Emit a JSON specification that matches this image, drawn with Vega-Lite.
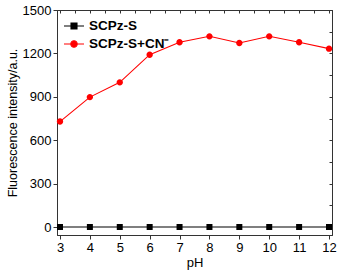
{
  "$schema": "https://vega.github.io/schema/vega-lite/v6.json",
  "width": 275,
  "height": 225,
  "autosize": {"type": "none"},
  "padding": {"left": 57, "top": 10, "right": 13, "bottom": 41},
  "config": {
    "view": {"stroke": "#333"},
    "font": "Liberation Sans",
    "axis": {"domainColor": "#333", "tickColor": "#333", "labelColor": "#000", "titleColor": "#000", "grid": false, "labelFont": "Liberation Sans", "titleFont": "Liberation Sans", "titleFontWeight": "normal"}
  },
  "data": {
    "values": [
      {"pH": 3, "intensity": 0, "series": "SCPz-S"},
      {"pH": 4, "intensity": 0, "series": "SCPz-S"},
      {"pH": 5, "intensity": 0, "series": "SCPz-S"},
      {"pH": 6, "intensity": 0, "series": "SCPz-S"},
      {"pH": 7, "intensity": 0, "series": "SCPz-S"},
      {"pH": 8, "intensity": 0, "series": "SCPz-S"},
      {"pH": 9, "intensity": 0, "series": "SCPz-S"},
      {"pH": 10, "intensity": 0, "series": "SCPz-S"},
      {"pH": 11, "intensity": 0, "series": "SCPz-S"},
      {"pH": 12, "intensity": 0, "series": "SCPz-S"},
      {"pH": 3, "intensity": 729, "series": "SCPz-S+CN⁻"},
      {"pH": 4, "intensity": 898, "series": "SCPz-S+CN⁻"},
      {"pH": 5, "intensity": 1000, "series": "SCPz-S+CN⁻"},
      {"pH": 6, "intensity": 1191, "series": "SCPz-S+CN⁻"},
      {"pH": 7, "intensity": 1277, "series": "SCPz-S+CN⁻"},
      {"pH": 8, "intensity": 1318, "series": "SCPz-S+CN⁻"},
      {"pH": 9, "intensity": 1272, "series": "SCPz-S+CN⁻"},
      {"pH": 10, "intensity": 1318, "series": "SCPz-S+CN⁻"},
      {"pH": 11, "intensity": 1277, "series": "SCPz-S+CN⁻"},
      {"pH": 12, "intensity": 1233, "series": "SCPz-S+CN⁻"}
    ]
  },
  "layer": [
    {
      "layer": [
        {
          "mark": {"type": "line", "strokeWidth": 1.1},
          "encoding": {
            "x": {"field": "pH", "type": "quantitative", "scale": {"domain": [2.9, 12.1], "nice": false, "zero": false},
              "axis": {"orient": "bottom", "values": [3,4,5,6,7,8,9,10,11,12], "format": "d", "labelOverlap": false, "title": "pH", "labelFontSize": 13, "titleFontSize": 13, "tickSize": 4, "labelPadding": 2, "titlePadding": 2}},
            "y": {"field": "intensity", "type": "quantitative", "scale": {"domain": [-55, 1500], "nice": false, "zero": false},
              "axis": {"orient": "left", "values": [0, 300, 600, 900, 1200, 1500], "format": "d", "labelOverlap": false, "title": "Fluorescence  intensity/a.u.", "labelFontSize": 13, "titleFontSize": 12.5, "tickSize": 4, "labelPadding": 2, "titlePadding": 3}},
            "stroke": {"field": "series", "type": "nominal", "scale": {"domain": ["SCPz-S", "SCPz-S+CN⁻"], "range": ["#000000", "#ff0000"]},
              "legend": {"title": null, "orient": "none", "legendX": 6, "legendY": 5, "labelFontSize": 13.5, "labelFontWeight": "bold", "labelFont": "Liberation Sans", "labelColor": "#000", "symbolSize": 400, "symbolStrokeWidth": 1.1, "rowPadding": 0, "labelOffset": 4}}
          }
        },
        {
          "mark": {"type": "point", "filled": true, "size": 400, "opacity": 1},
          "encoding": {
            "x": {"field": "pH", "type": "quantitative",
              "axis": {"orient": "bottom", "values": [3,4,5,6,7,8,9,10,11,12], "format": "d", "labelOverlap": false, "title": "pH", "labelFontSize": 13, "titleFontSize": 13, "tickSize": 4, "labelPadding": 2, "titlePadding": 2}},
            "y": {"field": "intensity", "type": "quantitative",
              "axis": {"orient": "left", "values": [0, 300, 600, 900, 1200, 1500], "format": "d", "labelOverlap": false, "title": "Fluorescence  intensity/a.u.", "labelFontSize": 13, "titleFontSize": 12.5, "tickSize": 4, "labelPadding": 2, "titlePadding": 3}},
            "color": {"field": "series", "type": "nominal", "scale": {"domain": ["SCPz-S", "SCPz-S+CN⁻"], "range": ["#000000", "#ff0000"]},
              "legend": {"title": null, "orient": "none", "legendX": 6, "legendY": 5, "labelFontSize": 13.5, "labelFontWeight": "bold", "labelFont": "Liberation Sans", "labelColor": "#000", "symbolSize": 400, "symbolStrokeWidth": 1.1, "rowPadding": 0, "labelOffset": 4}},
            "shape": {"field": "series", "type": "nominal", "scale": {"domain": ["SCPz-S", "SCPz-S+CN⁻"], "range": ["M-1,0H1M-0.3,-0.3H0.3V0.3H-0.3Z", "M-1,0H1M0.32,0A0.32,0.32 0 1 1 -0.32,0A0.32,0.32 0 1 1 0.32,0Z"]}}
          }
        }
      ]
    },
    {
      "mark": {"type": "point", "opacity": 0},
      "encoding": {
        "x": {"field": "pH", "type": "quantitative", "axis": {"orient": "top", "values": [3,3.5,4,4.5,5,5.5,6,6.5,7,7.5,8,8.5,9,9.5,10,10.5,11,11.5,12], "labels": false, "title": null, "tickSize": -3}},
        "y": {"field": "intensity", "type": "quantitative", "axis": {"orient": "right", "values": [0,150,300,450,600,750,900,1050,1200,1350,1500], "labels": false, "title": null, "tickSize": -3}}
      }
    }
  ],
  "resolve": {"axis": {"x": "independent", "y": "independent"}}
}
